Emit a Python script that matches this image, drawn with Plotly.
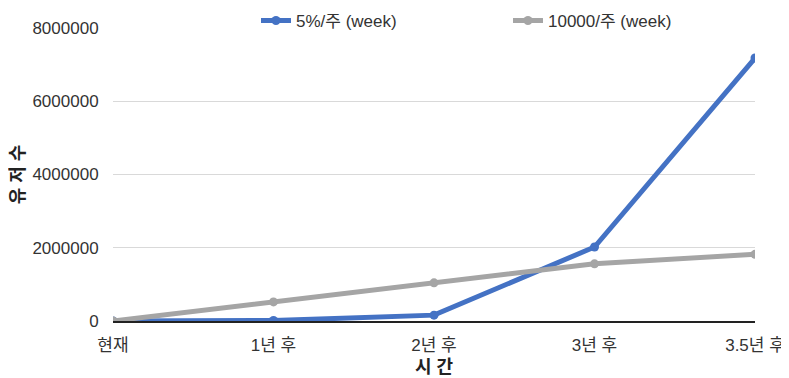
import plotly.graph_objects as go

categories = ["현재", "1년 후", "2년 후", "3년 후", "3.5년 후"]
pct_weekly = [1000, 12600, 160000, 2020000, 7180000]
fixed_weekly = [1000, 521000, 1041000, 1561000, 1821000]
series_names = ["5%/주 (week)", "10000/주 (week)"]
y_ticks = [0, 2000000, 4000000, 6000000, 8000000]

FONT = "Liberation Sans, Arial, Noto Sans CJK KR, sans-serif"

fig = go.Figure()
fig.add_trace(go.Scatter(
    x=categories, y=pct_weekly, name=series_names[0], mode="lines+markers",
    line=dict(color="#4472C4", width=5), marker=dict(size=9, color="#4472C4"),
))
fig.add_trace(go.Scatter(
    x=categories, y=fixed_weekly, name=series_names[1], mode="lines+markers",
    line=dict(color="#A5A5A5", width=5), marker=dict(size=9, color="#A5A5A5"),
))

fig.update_layout(
    width=789, height=378,
    margin=dict(l=105, r=42, t=20, b=65, autoexpand=False),
    paper_bgcolor="white", plot_bgcolor="white",
    font=dict(family=FONT, size=17, color="#333333"),
    legend=dict(
        orientation="h", x=0.2227, xanchor="left", y=1.024, yanchor="middle",
        bgcolor="rgba(0,0,0,0)", font=dict(size=17, color="#333333"),
        entrywidth=207, entrywidthmode="pixels", itemwidth=30,
    ),
    xaxis=dict(
        type="category", range=[0, 4], showgrid=False,
        showline=True, linecolor="#222222", linewidth=1.5,
        ticks="outside", ticklen=8, tickcolor="rgba(0,0,0,0)",
        title=dict(text="<b>시 간</b>", font=dict(size=18, color="#222222"), standoff=6),
        automargin=False,
    ),
    yaxis=dict(
        range=[0, 8000000], tickvals=y_ticks, tickformat="d",
        showgrid=True, gridcolor="#D9D9D9", gridwidth=1,
        zeroline=False, showline=False,
        ticks="outside", ticklen=10, tickcolor="rgba(0,0,0,0)",
        title=dict(text="<b>유 저 수</b>", font=dict(size=18, color="#222222"), standoff=3),
        automargin=False,
    ),
)

fig.write_html("out.html")
